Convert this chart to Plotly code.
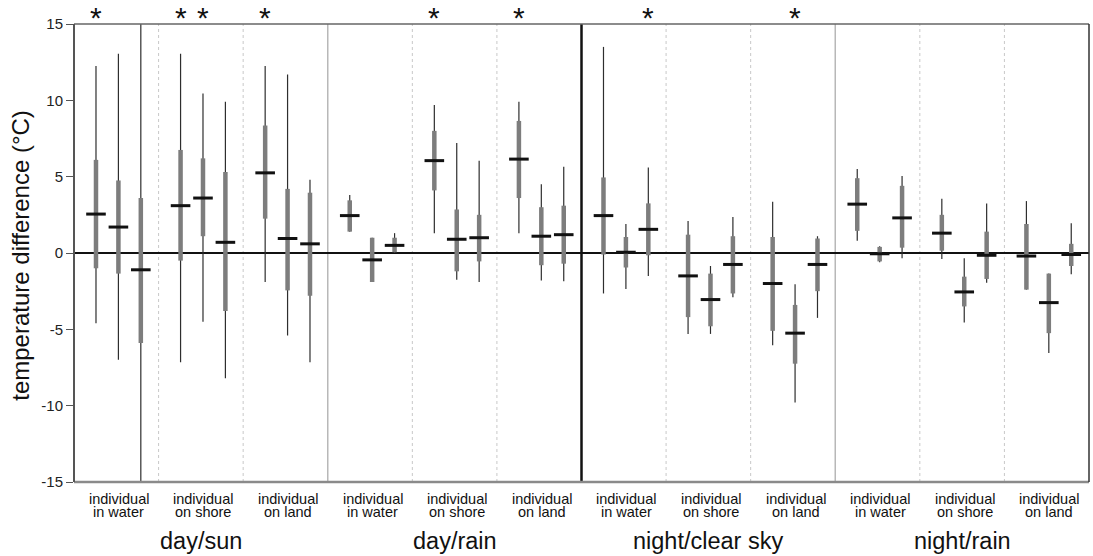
import plotly.graph_objects as go

# ---------------- data ----------------
conditions = ["day/sun", "day/rain", "night/clear sky", "night/rain"]
positions = [["individual", "in water"], ["individual", "on shore"], ["individual", "on land"]]

# 36 boxes: 4 conditions x 3 positions x 3 boxes (reading left to right)
whisker_low = [
    -4.6, -7.0, -15.0,   -7.15, -4.5, -8.2,   -1.9, -5.4, -7.15,
    1.4, -1.9, 0.0,      1.3, -1.75, -1.9,    1.3, -1.8, -1.85,
    -2.65, -2.35, -1.5,  -5.3, -5.3, -2.9,    -6.05, -9.8, -4.25,
    0.8, -0.6, -0.35,    -0.4, -4.55, -1.95,  -2.4, -6.55, -1.4,
]
q1 = [
    -1.0, -1.35, -5.9,   -0.5, 1.1, -3.8,     2.25, -2.45, -2.8,
    1.4, -1.9, 0.05,     4.1, -1.2, -0.55,    3.6, -0.8, -0.7,
    -0.1, -0.95, -0.15,  -4.2, -4.8, -2.65,   -5.1, -7.25, -2.5,
    1.45, -0.55, 0.35,   0.15, -3.5, -1.7,    -2.4, -5.25, -0.85,
]
median = [
    2.55, 1.7, -1.1,     3.1, 3.6, 0.7,       5.25, 0.95, 0.6,
    2.45, -0.45, 0.5,    6.05, 0.9, 1.0,      6.15, 1.1, 1.2,
    2.45, 0.05, 1.55,    -1.5, -3.05, -0.75,  -2.0, -5.25, -0.75,
    3.2, -0.05, 2.3,     1.3, -2.55, -0.15,   -0.2, -3.25, -0.1,
]
q3 = [
    6.1, 4.75, 3.6,      6.75, 6.2, 5.3,      8.35, 4.2, 3.95,
    3.45, 1.0, 1.0,      8.0, 2.85, 2.5,      8.65, 3.0, 3.1,
    4.95, 1.05, 3.25,    1.2, -1.35, 1.1,     1.05, -3.4, 0.95,
    4.9, 0.4, 4.4,       2.5, -1.55, 1.4,     1.9, -1.35, 0.6,
]
whisker_high = [
    12.25, 13.05, 15.0,  13.05, 10.45, 9.9,   12.25, 11.7, 4.8,
    3.8, 1.0, 1.3,       9.7, 7.2, 6.05,      9.9, 4.5, 5.65,
    13.5, 1.9, 5.6,      2.1, -0.85, 2.35,    3.35, -2.05, 1.1,
    5.5, 0.45, 5.05,     3.55, -0.35, 3.25,   3.4, -1.35, 1.95,
]
significant = [0, 3, 4, 6, 12, 15, 20, 25]   # boxes marked with *

y_ticks = [-15, -10, -5, 0, 5, 10, 15]
y_title = "temperature difference (°C)"

# ---------------- layout helpers ----------------
FONT = "Liberation Sans, Arial"
offsets = [0.26, 0.525, 0.79]
n_sub = len(conditions) * len(positions)
xs = [(i // 3) + offsets[i % 3] for i in range(len(median))]

wx, wy, bx, by = [], [], [], []
for x, lo, a, b, hi in zip(xs, whisker_low, q1, q3, whisker_high):
    wx += [x, x, None]
    wy += [lo, hi, None]
    bx += [x, x, None]
    by += [a, b, None]

fig = go.Figure()
fig.add_trace(go.Scatter(x=wx, y=wy, mode="lines", line=dict(color="#2e2e2e", width=1.2),
                         hoverinfo="skip", showlegend=False))
fig.add_trace(go.Scatter(x=bx, y=by, mode="lines", line=dict(color="#7d7d7d", width=4.5),
                         hoverinfo="skip", showlegend=False))
fig.add_trace(go.Scatter(x=xs, y=median, mode="markers",
                         marker=dict(symbol="line-ew", size=14, line=dict(color="#111111", width=3)),
                         hoverinfo="skip", showlegend=False))

shapes = []
# zero line
shapes.append(dict(type="line", xref="x", yref="y", x0=0, x1=n_sub, y0=0, y1=0,
                   line=dict(color="#111", width=2), layer="below"))
# separators
for k in range(1, n_sub):
    if k == 6:
        shapes.append(dict(type="line", xref="x", yref="paper", x0=k, x1=k, y0=0, y1=1,
                           line=dict(color="#111", width=2.5)))
    elif k % 3 == 0:
        shapes.append(dict(type="line", xref="x", yref="paper", x0=k, x1=k, y0=0, y1=1,
                           line=dict(color="#b8b8b8", width=1.5), layer="below"))
    else:
        shapes.append(dict(type="line", xref="x", yref="paper", x0=k, x1=k, y0=0, y1=1,
                           line=dict(color="#c8c8c8", width=1, dash="dot"), layer="below"))
# frame
shapes.append(dict(type="line", xref="paper", yref="paper", x0=0, x1=1, y0=1, y1=1,
                   line=dict(color="#666", width=1.5)))
shapes.append(dict(type="line", xref="paper", yref="paper", x0=0, x1=1, y0=0, y1=0,
                   line=dict(color="#8a8a8a", width=2.5)))
shapes.append(dict(type="line", xref="paper", yref="paper", x0=1, x1=1, y0=0, y1=1,
                   line=dict(color="#333", width=1.5)))
shapes.append(dict(type="line", xref="paper", yref="paper", x0=0, x1=0, y0=0, y1=1,
                   line=dict(color="#555", width=2)))

annotations = []
# significance stars
for i in significant:
    annotations.append(dict(x=xs[i], y=1, xref="x", yref="paper", text="*", showarrow=False,
                            xanchor="center", yanchor="middle", yshift=7,
                            font=dict(family=FONT, size=30, color="#111")))
for s in range(n_sub):
    l1, l2 = positions[s % 3]
    annotations.append(dict(x=s + 0.53, y=0, xref="x", yref="paper", text=l1, showarrow=False,
                            xanchor="center", yanchor="middle", yshift=-17,
                            font=dict(family=FONT, size=14.5, color="#111")))
    annotations.append(dict(x=s + 0.53, y=0, xref="x", yref="paper", text=l2, showarrow=False,
                            xanchor="center", yanchor="middle", yshift=-30,
                            font=dict(family=FONT, size=14.5, color="#111")))
for c, name in enumerate(conditions):
    annotations.append(dict(x=c * 3 + 1.5, y=0, xref="x", yref="paper", text=name, showarrow=False,
                            xanchor="center", yanchor="middle", yshift=-59,
                            font=dict(family=FONT, size=23.5, color="#111")))
annotations.append(dict(x=0, y=0.494, xref="paper", yref="paper", text=y_title, showarrow=False,
                        xanchor="center", yanchor="middle", xshift=-53, textangle=-90,
                        font=dict(family=FONT, size=24, color="#111")))

fig.update_layout(
    width=1093, height=556,
    margin=dict(l=74, r=4, t=24, b=74),
    paper_bgcolor="white", plot_bgcolor="white",
    shapes=shapes, annotations=annotations,
    xaxis=dict(range=[0, n_sub], showgrid=False, zeroline=False, showticklabels=False,
               ticks="", showline=False, fixedrange=True),
    yaxis=dict(range=[-15, 15], tickvals=y_ticks, ticktext=[str(v) for v in y_ticks],
               showgrid=False, zeroline=False, ticks="outside", ticklen=7, tickwidth=1,
               tickcolor="#555", showline=False,
               tickfont=dict(family=FONT, size=15, color="#222"),
               fixedrange=True),
)

fig.write_html("out.html")
